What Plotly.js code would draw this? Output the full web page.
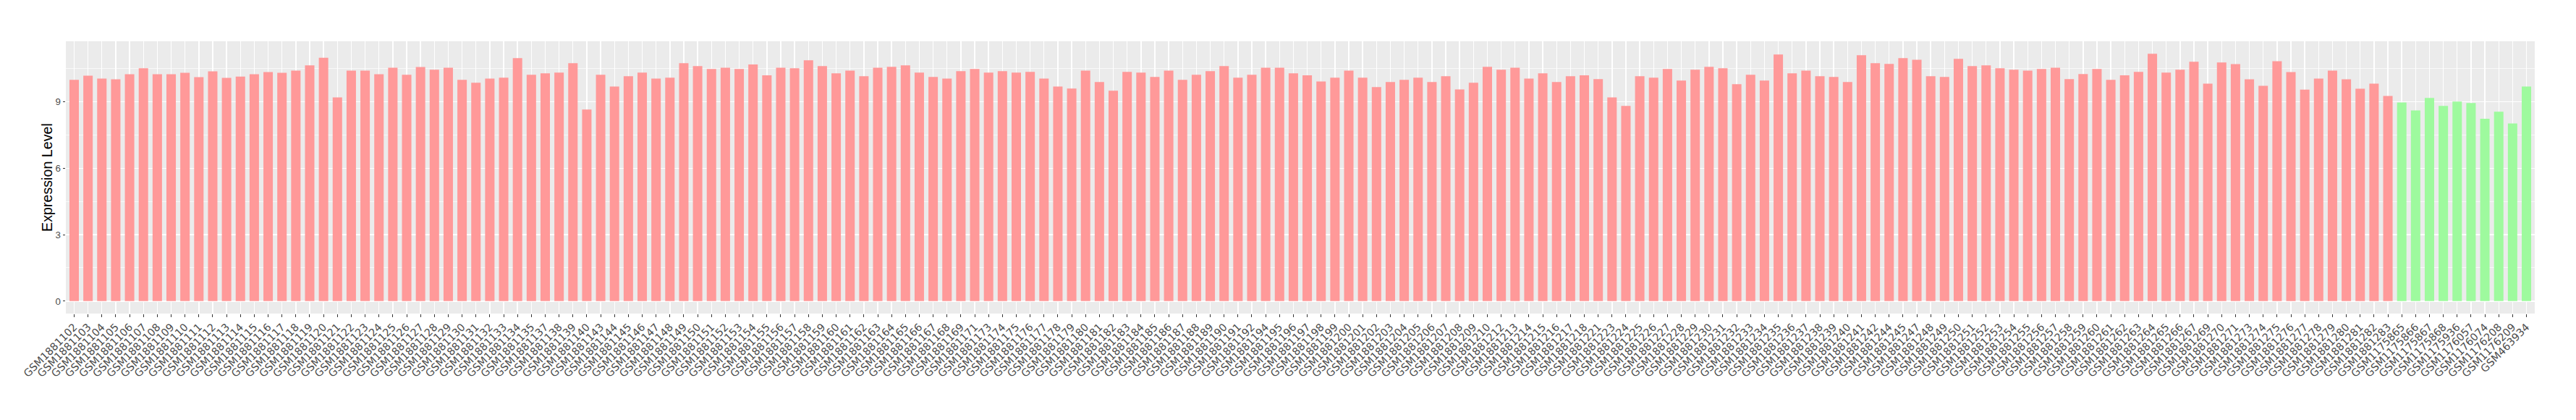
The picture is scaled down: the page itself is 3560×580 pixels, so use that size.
<!DOCTYPE html>
<html>
<head>
<meta charset="utf-8">
<script src="https://cdn.plot.ly/plotly-3.0.1.min.js"></script>
<style>html,body{margin:0;padding:0;background:#fff;}#chart{width:3560px;height:580px;}</style>
</head>
<body>
<div id="chart"></div>
<script>
const tumorSamples = [
"GSM1881102","GSM1881103","GSM1881104","GSM1881105","GSM1881106","GSM1881107","GSM1881108","GSM1881109","GSM1881110","GSM1881111",
"GSM1881112","GSM1881113","GSM1881114","GSM1881115","GSM1881116","GSM1881117","GSM1881118","GSM1881119","GSM1881120","GSM1881121",
"GSM1881122","GSM1881123","GSM1881124","GSM1881125","GSM1881126","GSM1881127","GSM1881128","GSM1881129","GSM1881130","GSM1881131",
"GSM1881132","GSM1881133","GSM1881134","GSM1881135","GSM1881137","GSM1881138","GSM1881139","GSM1881140","GSM1881143","GSM1881144",
"GSM1881145","GSM1881146","GSM1881147","GSM1881148","GSM1881149","GSM1881150","GSM1881151","GSM1881152","GSM1881153","GSM1881154",
"GSM1881155","GSM1881156","GSM1881157","GSM1881158","GSM1881159","GSM1881160","GSM1881161","GSM1881162","GSM1881163","GSM1881164",
"GSM1881165","GSM1881166","GSM1881167","GSM1881168","GSM1881169","GSM1881171","GSM1881173","GSM1881174","GSM1881175","GSM1881176",
"GSM1881177","GSM1881178","GSM1881179","GSM1881180","GSM1881181","GSM1881182","GSM1881183","GSM1881184","GSM1881185","GSM1881186",
"GSM1881187","GSM1881188","GSM1881189","GSM1881190","GSM1881191","GSM1881192","GSM1881194","GSM1881195","GSM1881196","GSM1881197",
"GSM1881198","GSM1881199","GSM1881200","GSM1881201","GSM1881202","GSM1881203","GSM1881204","GSM1881205","GSM1881206","GSM1881207",
"GSM1881208","GSM1881209","GSM1881210","GSM1881212","GSM1881213","GSM1881214","GSM1881215","GSM1881216","GSM1881217","GSM1881218",
"GSM1881221","GSM1881223","GSM1881224","GSM1881225","GSM1881226","GSM1881227","GSM1881228","GSM1881229","GSM1881230","GSM1881231",
"GSM1881232","GSM1881233","GSM1881234","GSM1881235","GSM1881236","GSM1881237","GSM1881238","GSM1881239","GSM1881240","GSM1881241",
"GSM1881242","GSM1881244","GSM1881245","GSM1881247","GSM1881248","GSM1881249","GSM1881250","GSM1881251","GSM1881252","GSM1881253",
"GSM1881254","GSM1881255","GSM1881256","GSM1881257","GSM1881258","GSM1881259","GSM1881260","GSM1881261","GSM1881262","GSM1881263",
"GSM1881264","GSM1881265","GSM1881266","GSM1881267","GSM1881269","GSM1881270","GSM1881271","GSM1881273","GSM1881274","GSM1881275",
"GSM1881276","GSM1881277","GSM1881278","GSM1881279","GSM1881280","GSM1881281","GSM1881282","GSM1881283"
];
const tumorValues = [
9.99,10.18,10.05,10.01,10.24,10.51,10.24,10.24,10.31,10.11,
10.37,10.08,10.14,10.24,10.34,10.31,10.41,10.64,10.99,9.20,
10.41,10.41,10.24,10.54,10.22,10.57,10.45,10.54,9.99,9.86,
10.05,10.09,10.97,10.22,10.28,10.32,10.74,8.65,10.22,9.69,
10.15,10.32,10.05,10.09,10.74,10.61,10.48,10.54,10.48,10.68,
10.19,10.54,10.51,10.87,10.61,10.28,10.41,10.15,10.54,10.58,
10.64,10.32,10.12,10.05,10.38,10.48,10.32,10.38,10.32,10.35,
10.05,9.69,9.60,10.41,9.89,9.50,10.35,10.32,10.12,10.41,
9.99,10.22,10.38,10.61,10.09,10.22,10.54,10.54,10.28,10.19,
9.92,10.09,10.41,10.09,9.66,9.89,9.99,10.09,9.89,10.15,
9.56,9.86,10.58,10.45,10.54,10.05,10.28,9.89,10.15,10.19,
10.02,9.20,8.81,10.15,10.09,10.48,9.96,10.45,10.58,10.51,
9.79,10.22,9.96,11.13,10.28,10.41,10.15,10.12,9.89,11.10,
10.74,10.71,10.97,10.90,10.15,10.12,10.94,10.61,10.64,10.51,
10.45,10.41,10.48,10.54,10.02,10.25,10.48,9.99,10.19,10.35,
11.17,10.32,10.45,10.81,9.82,10.77,10.70,10.01,9.72,10.83,
10.34,9.55,10.05,10.41,10.01,9.59,9.82,9.26
];
const normalSamples = ["GSM1175865","GSM1175866","GSM1175867","GSM1175868","GSM1175936","GSM1176057","GSM1176074","GSM1176208","GSM1176209","GSM463934"];
const normalValues = [8.97,8.61,9.17,8.81,9.01,8.94,8.23,8.55,8.02,9.69];
const yTickValues = [0,3,6,9];
const yTitle = "Expression Level";

const allSamples = tumorSamples.concat(normalSamples);

const traces = [
  {type:'bar', x:tumorSamples, y:tumorValues, marker:{color:'#FF9999', line:{width:0}}, width:0.68, hoverinfo:'x+y', showlegend:false},
  {type:'bar', x:normalSamples, y:normalValues, marker:{color:'#9EFA9E', line:{width:0}}, width:0.68, hoverinfo:'x+y', showlegend:false}
];

const plotLeft = 91, plotWidth = 3412;

const layout = {
  width:3560, height:580,
  margin:{l:plotLeft, r:57, t:57, b:147, pad:0},
  paper_bgcolor:'#FFFFFF',
  plot_bgcolor:'#EBEBEB',
  barmode:'overlay',
  font:{family:'Liberation Sans, Arial, sans-serif', color:'#4D4D4D', size:13.3},
  xaxis:{
    type:'category', categoryorder:'array', categoryarray:allSamples,
    range:[-0.6, allSamples.length - 0.4],
    showgrid:true, gridcolor:'#FFFFFF', gridwidth:1.4,
    zeroline:false, showline:false,
    ticks:'outside', ticklen:3.5, tickwidth:1, tickcolor:'#333333',
    tickangle:-45, tickfont:{family:'DejaVu Sans, sans-serif', size:14.5, color:'#4D4D4D'},
    automargin:false
  },
  yaxis:{
    range:[-0.56, 11.73],
    tickmode:'array', tickvals:yTickValues,
    showgrid:true, gridcolor:'#FFFFFF', gridwidth:1.4,
    minor:{dtick:1.5, tick0:0, showgrid:true, gridcolor:'#FFFFFF', gridwidth:0.7, ticks:''},
    zeroline:false, showline:false,
    ticks:'outside', ticklen:3.5, tickwidth:1, tickcolor:'#333333',
    tickfont:{family:'Liberation Sans, Arial, sans-serif', size:13.3, color:'#4D4D4D'},
    automargin:false
  },
  annotations:[{
    text:yTitle, textangle:-90, showarrow:false,
    xref:'paper', yref:'paper', x:(65 - plotLeft)/plotWidth, y:0.5,
    xanchor:'center', yanchor:'middle',
    font:{family:'Liberation Sans, Arial, sans-serif', size:19.7, color:'#000000'}
  }]
};

Plotly.newPlot('chart', traces, layout, {staticPlot:true, displayModeBar:false});
</script>
</body>
</html>
